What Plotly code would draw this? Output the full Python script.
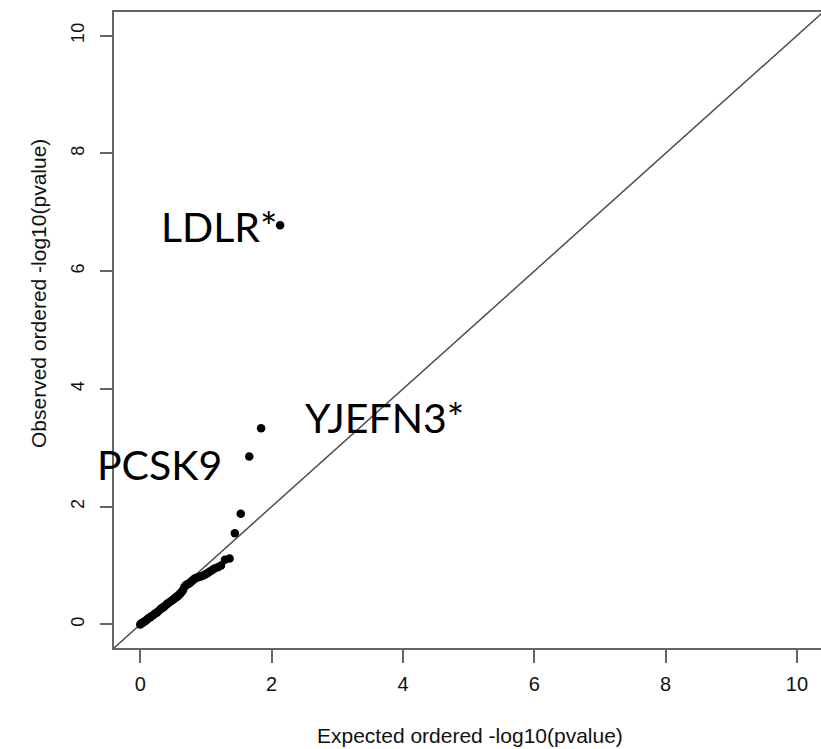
import plotly.graph_objects as go

# Expected vs observed -log10(p) values
expected = [2.13, 1.84, 1.66, 1.53, 1.44, 1.36, 1.29, 1.23, 1.18, 1.13,
            1.09, 1.05, 1.02, 0.99, 0.96, 0.93, 0.90, 0.88, 0.85, 0.83,
            0.81, 0.79, 0.77, 0.75, 0.73, 0.71, 0.69, 0.67, 0.65, 0.63,
            0.61, 0.59, 0.57, 0.55, 0.52, 0.50, 0.47, 0.45, 0.42, 0.40,
            0.37, 0.35, 0.32, 0.30, 0.27, 0.25, 0.22, 0.20, 0.17, 0.15,
            0.12, 0.10, 0.08, 0.06, 0.04, 0.02, 0.01, 0.00]
observed = [6.78, 3.33, 2.85, 1.88, 1.55, 1.12, 1.10, 1.00, 0.97, 0.95,
            0.92, 0.89, 0.87, 0.85, 0.83, 0.82, 0.81, 0.80, 0.79, 0.78,
            0.76, 0.74, 0.72, 0.70, 0.69, 0.68, 0.66, 0.63, 0.58, 0.55,
            0.52, 0.50, 0.48, 0.46, 0.44, 0.42, 0.40, 0.38, 0.36, 0.34,
            0.31, 0.29, 0.27, 0.25, 0.22, 0.20, 0.18, 0.16, 0.14, 0.12,
            0.10, 0.08, 0.06, 0.05, 0.03, 0.02, 0.01, 0.00]

tick_vals = [0, 2, 4, 6, 8, 10]
tick_text = ["0", "2", "4", "6", "8", "10"]

gene_labels = ["LDLR*", "YJEFN3*", "PCSK9"]
gene_label_x = [0.29, 2.48, -0.69]
gene_label_y = [6.76, 3.52, 2.71]

diag = [-0.4, 10.4]

W, H = 821, 749
L, R, T, B = 114, 0, 12, 101
X0, X1 = -0.4, 10.366
Y0, Y1 = -0.4, 10.4


def xp(v):
    return (v - X0) / (X1 - X0)


def yp(v):
    return (v - Y0) / (Y1 - Y0)


fig = go.Figure()
fig.add_trace(go.Scatter(x=diag, y=diag, mode="lines",
                         line=dict(color="#4d4d4d", width=1.5),
                         hoverinfo="skip", showlegend=False))
fig.add_trace(go.Scatter(x=expected, y=observed, mode="markers",
                         marker=dict(color="black", size=8.5),
                         showlegend=False))

for t, x, y in zip(gene_labels, gene_label_x, gene_label_y):
    fig.add_annotation(x=xp(x), y=yp(y), xref="paper", yref="paper", text=t,
                       showarrow=False, xanchor="left", yanchor="middle",
                       font=dict(family="Lato", size=41, color="black"))

sans = "Liberation Sans, Arial, sans-serif"

fig.add_annotation(xref="paper", yref="paper", x=(470 - L) / 707, y=(648 - 735) / 636,
                   text="Expected ordered -log10(pvalue)", showarrow=False,
                   xanchor="center", yanchor="middle",
                   font=dict(family=sans, size=21, color="#111111"))
fig.add_annotation(xref="paper", yref="paper", x=(38 - L) / 707, y=(648 - 294) / 636,
                   text="Observed ordered -log10(pvalue)", showarrow=False, textangle=-90,
                   xanchor="center", yanchor="middle",
                   font=dict(family=sans, size=21, color="#111111"))

fig.update_layout(
    width=W, height=H,
    margin=dict(l=L, r=R, t=T, b=B, pad=0),
    paper_bgcolor="white", plot_bgcolor="white",
    xaxis=dict(range=[X0, X1], tickvals=tick_vals, ticktext=tick_text,
               showgrid=False, zeroline=False, showline=True, mirror=True,
               linecolor="#666666", linewidth=2, ticks="outside", ticklen=13,
               tickcolor="#666666", tickwidth=1.5, ticklabelstandoff=4,
               tickfont=dict(family=sans, size=20, color="#111111")),
    yaxis=dict(range=[Y0, Y1], tickvals=tick_vals, ticktext=tick_text,
               showgrid=False, zeroline=False, showline=True, mirror=False,
               linecolor="#666666", linewidth=2, ticks="outside", ticklen=12,
               tickcolor="#666666", tickwidth=1.5, tickangle=-90,
               ticklabelstandoff=9,
               tickfont=dict(family=sans, size=18, color="#111111")),
)

fig.write_html("out.html")
